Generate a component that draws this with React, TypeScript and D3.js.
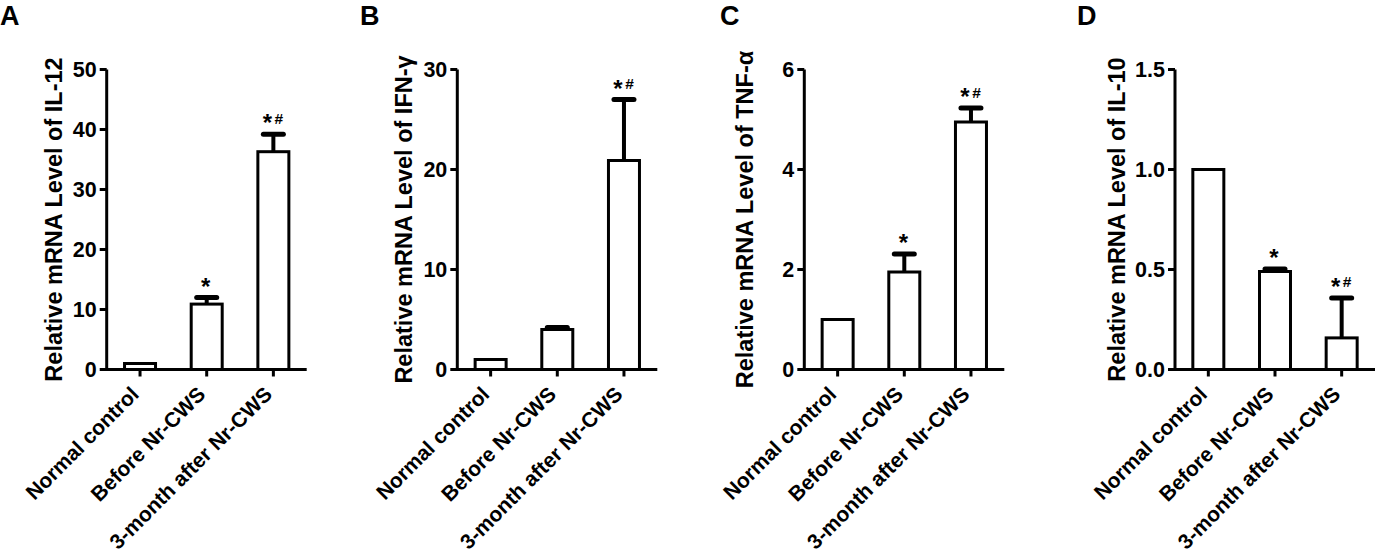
import React from "react";
import * as d3 from "d3";

const categories = ["Normal control", "Before Nr-CWS", "3-month after Nr-CWS"];

const il12Means = [1, 10.9, 36.3];
const il12Errors = [0, 1.1, 2.9];
const il12Ticks = [0, 10, 20, 30, 40, 50];
const il12Marks = ["", "*", "*#"];

const ifnMeans = [1.0, 4.0, 20.9];
const ifnErrors = [0, 0.2, 6.1];
const ifnTicks = [0, 10, 20, 30];
const ifnMarks = ["", "", "*#"];

const tnfMeans = [1, 1.95, 4.95];
const tnfErrors = [0, 0.36, 0.28];
const tnfTicks = [0, 2, 4, 6];
const tnfMarks = ["", "*", "*#"];

const il10Means = [1, 0.49, 0.158];
const il10Errors = [0, 0.012, 0.2];
const il10Ticks = [0, 0.5, 1.0, 1.5];
const il10Marks = ["", "*", "*#"];

const FONT = "'Liberation Sans', Arial, Helvetica, sans-serif";

interface PanelProps {
  letter: string;
  title: string;
  means: number[];
  errors: number[];
  ticks: number[];
  marks: string[];
  fmt: (v: number) => string;
  axisX: number;
  labelX: number;
  letterX: number;
}

const Panel: React.FC<PanelProps> = ({
  letter, title, means, errors, ticks, marks, fmt, axisX, labelX, letterX,
}) => {
  const top = 69.5;
  const bottom = 369.5;
  const x = d3.scalePoint<string>().domain(categories).range([axisX, axisX + 200]).padding(0.5);
  const y = d3.scaleLinear().domain([0, d3.max(ticks)!]).range([bottom, top]);
  const barW = 31;

  return (
    <g fontFamily={FONT} fontWeight="bold" fill="#000">
      <text x={letterX} y={25} fontSize={27}>{letter}</text>

      {/* y axis */}
      <line x1={axisX} x2={axisX} y1={top} y2={bottom} stroke="#000" strokeWidth={3} />
      {ticks.map((t) => (
        <g key={t}>
          <line x1={axisX - 7} x2={axisX} y1={y(t)} y2={y(t)} stroke="#000" strokeWidth={3} />
          <text x={axisX - 10} y={y(t)} dy="0.36em" textAnchor="end" fontSize={21.5}>{fmt(t)}</text>
        </g>
      ))}
      <text
        transform={`translate(${labelX},${(top + bottom) / 2}) rotate(-90)`}
        textAnchor="middle"
        fontSize={23.5}
      >
        {title}
      </text>

      {/* bars */}
      {categories.map((c, i) => {
        const cx = x(c)!;
        const capY = y(means[i] + errors[i]);
        return (
          <g key={c}>
            {errors[i] > 0 && (
              <g stroke="#000">
                <line x1={cx} x2={cx} y1={y(means[i])} y2={capY} strokeWidth={4} />
                <line x1={cx - 10} x2={cx + 10} y1={capY} y2={capY} strokeWidth={5} strokeLinecap="round" />
              </g>
            )}
            <rect x={cx - barW / 2} y={y(means[i])} width={barW} height={bottom - y(means[i])}
              fill="#fff" stroke="#000" strokeWidth={3} />
            {marks[i] === "*" && (
              <text x={cx - 1} y={capY - 3} textAnchor="middle" fontSize={24}>*</text>
            )}
            {marks[i] === "*#" && (
              <g>
                <text x={cx - 6} y={capY - 3} textAnchor="middle" fontSize={24}>*</text>
                <text x={cx + 5.5} y={capY - 10.5} textAnchor="middle" fontSize={15.5}>#</text>
              </g>
            )}
          </g>
        );
      })}

      {/* x axis */}
      <line x1={axisX - 1.5} x2={axisX + 200} y1={bottom} y2={bottom} stroke="#000" strokeWidth={3} />
      {categories.map((c) => (
        <g key={c}>
          <line x1={x(c)!} x2={x(c)!} y1={bottom} y2={bottom + 7} stroke="#000" strokeWidth={3} />
          <text
            transform={`translate(${x(c)!},${bottom + 26}) rotate(-45)`}
            textAnchor="end"
            fontSize={21}
          >
            {c}
          </text>
        </g>
      ))}
    </g>
  );
};

const intFmt = d3.format("d");
const decFmt = d3.format(".1f");

export default function App() {
  return (
    <svg width={1379} height={555} style={{ position: "absolute", left: 0, top: 0, background: "#fff" }}>
      <rect width={1379} height={555} fill="#fff" />
      <Panel letter="A" title="Relative mRNA Level of IL-12" means={il12Means} errors={il12Errors}
        ticks={il12Ticks} marks={il12Marks} fmt={intFmt} axisX={106.7} labelX={62} letterX={0} />
      <Panel letter="B" title="Relative mRNA Level of IFN-γ" means={ifnMeans} errors={ifnErrors}
        ticks={ifnTicks} marks={ifnMarks} fmt={intFmt} axisX={457.3} labelX={411.7} letterX={360} />
      <Panel letter="C" title="Relative mRNA Level of TNF-α" means={tnfMeans} errors={tnfErrors}
        ticks={tnfTicks} marks={tnfMarks} fmt={intFmt} axisX={804.3} labelX={753} letterX={720} />
      <Panel letter="D" title="Relative mRNA Level of IL-10" means={il10Means} errors={il10Errors}
        ticks={il10Ticks} marks={il10Marks} fmt={decFmt} axisX={1175} labelX={1125} letterX={1077} />
    </svg>
  );
}
